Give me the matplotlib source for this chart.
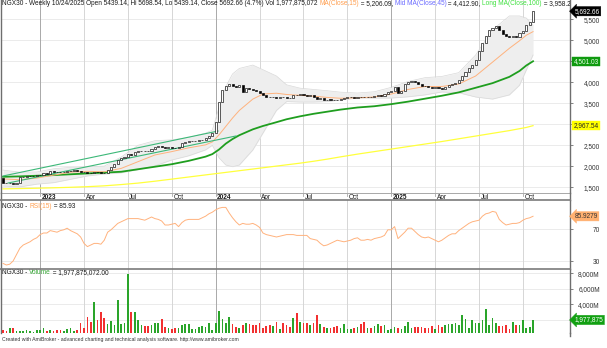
import numpy as np
import pandas as pd
import matplotlib
matplotlib.use("Agg")
import matplotlib.pyplot as plt
import matplotlib.transforms as mtransforms

plt.rcParams["font.family"] = ["Liberation Sans", "DejaVu Sans"]

W, H = 607, 348

# ── Data: NGX30 weekly bars ────────────────────────────────────────────────
dates = pd.date_range("2022-10-21", "2025-10-24", freq="W-FRI")

opens = [
    1712, 1600, 1594, 1598, 1590, 1612, 1738, 1750, 1758, 1766,
    1775, 1790, 1802, 1830, 1822, 1880, 1872, 1865, 1858, 1870,
    1885, 1900, 1905, 1895, 1870, 1862, 1848, 1842, 1872, 1866,
    1852, 1846, 1905, 1990, 2060, 2160, 2190, 2230, 2290, 2270,
    2330, 2360, 2375, 2368, 2362, 2420, 2455, 2480, 2470, 2440,
    2448, 2432, 2425, 2470, 2545, 2580, 2598, 2605, 2612, 2618,
    2630, 2680, 2720, 2790, 3060, 3520, 3810, 3900, 3950, 3920,
    3880, 3940, 3780, 3860, 3840, 3820, 3800, 3740, 3700, 3660,
    3640, 3650, 3630, 3660, 3645, 3635, 3628, 3700, 3690, 3715,
    3700, 3680, 3690, 3650, 3610, 3620, 3570, 3590, 3585, 3580,
    3575, 3600, 3630, 3640, 3650, 3635, 3660, 3650, 3640, 3660,
    3655, 3670, 3690, 3685, 3720, 3760, 3800, 3890, 3745, 3790,
    3960, 4010, 4030, 4005, 3950, 3915, 3900, 3885, 3860, 3880,
    3862, 3850, 3890, 3930, 3950, 3985, 4060, 4150, 4250, 4330,
    4420, 4520, 4740, 4930, 5110, 5240, 5300, 5330, 5240, 5140,
    5110, 5080, 5100, 5090, 5170, 5210, 5365, 5439.14,
]
closes = [
    1600, 1594, 1598, 1590, 1610, 1738, 1750, 1758, 1766, 1775,
    1790, 1802, 1830, 1822, 1880, 1872, 1865, 1858, 1870, 1885,
    1900, 1905, 1895, 1870, 1862, 1848, 1842, 1872, 1866, 1852,
    1846, 1905, 1990, 2060, 2160, 2190, 2230, 2290, 2270, 2330,
    2360, 2375, 2368, 2362, 2420, 2455, 2480, 2470, 2440, 2448,
    2432, 2425, 2470, 2545, 2580, 2598, 2605, 2612, 2618, 2630,
    2680, 2720, 2790, 3060, 3520, 3810, 3900, 3950, 3920, 3880,
    3940, 3780, 3860, 3840, 3820, 3800, 3740, 3700, 3660, 3640,
    3650, 3630, 3660, 3645, 3635, 3628, 3700, 3690, 3715, 3700,
    3680, 3690, 3650, 3610, 3620, 3570, 3590, 3585, 3580, 3575,
    3600, 3630, 3640, 3650, 3635, 3660, 3650, 3640, 3660, 3655,
    3670, 3690, 3685, 3720, 3760, 3800, 3890, 3745, 3790, 3960,
    4010, 4030, 4005, 3950, 3915, 3900, 3885, 3860, 3880, 3862,
    3850, 3890, 3930, 3950, 3985, 4060, 4150, 4250, 4330, 4420,
    4520, 4740, 4930, 5110, 5240, 5300, 5330, 5240, 5140, 5110,
    5080, 5100, 5090, 5170, 5210, 5365, 5439.14, 5692.66,
]
volume_m = [
    684, 555, 900, 900, 600, 600, 600, 684, 555, 465,
    684, 684, 900, 600, 684, 600, 684, 684, 555, 770,
    900, 555, 684, 1630, 900, 2400, 1760, 4340, 1975, 3050,
    2190, 1460, 1850, 1330, 4550, 1460, 1630, 7900, 3050, 3050,
    1975, 1330, 1200, 1200, 1330, 1630, 1630, 2065, 1110, 900,
    770, 900, 900, 1330, 1460, 1460, 770, 770, 1110, 1200,
    1110, 1550, 684, 1550, 3170, 2065, 1550, 2320, 1460, 1020,
    900, 1330, 1630, 1460, 1330, 1330, 1550, 900, 1200, 1330,
    1200, 1760, 770, 1630, 1330, 1110, 2190, 2840, 1760, 1630,
    1630, 1330, 1630, 2620, 1460, 1020, 900, 900, 1020, 1200,
    900, 1460, 810, 770, 900, 1110, 1460, 1760, 900, 900,
    1200, 1460, 1200, 1330, 684, 770, 1020, 900, 770, 1200,
    1760, 900, 1020, 1020, 1020, 900, 900, 1200, 770, 1330,
    1020, 1330, 1460, 1460, 1550, 1330, 2620, 2065, 900, 1975,
    1630, 1630, 1975, 3350, 1330, 2190, 1630, 1200, 1200, 1330,
    770, 1760, 1330, 1330, 1975, 900, 1020, 1977.875,
]
rsi15 = [
    27, 25, 26, 30, 38, 46, 50, 52, 54, 57,
    59, 63, 65, 65, 68, 67, 66, 68, 69, 71,
    68, 66, 64, 60, 52, 48, 50, 52, 52, 51,
    56, 66, 69, 73, 77, 79, 81, 83, 83, 83,
    83, 82, 81, 83, 85, 83, 82, 80, 75, 75,
    76, 77, 73, 78, 81, 82, 82, 82, 82, 84,
    86, 89, 91, 94, 96, 97, 97, 90, 84, 79,
    75, 77, 76, 76, 77, 75, 72, 65, 63, 62,
    61, 60, 61, 62, 63, 63, 63, 62, 62, 62,
    62, 58, 57, 56, 52, 49, 50, 52, 54, 56,
    55, 54, 55, 56, 58, 59, 56, 56, 57, 56,
    58, 59, 60, 62, 69, 69, 73, 58, 62, 66,
    71, 71, 67, 63, 60, 59, 60, 58, 56, 54,
    56, 59, 62, 64, 64, 68, 71, 74, 77, 79,
    80, 81, 86, 89, 90, 92, 91, 82, 78, 75,
    76, 77, 77, 78, 81, 83, 84, 85.93,
]

# overlay lines, read on these bar numbers
line_bars = [0, 5, 10, 15, 20, 25, 30, 35, 40, 45, 50, 55, 60, 62, 64, 66,
             68, 70, 74, 77, 81, 84, 88, 92, 96, 100, 105, 110, 115, 120,
             125, 130, 135, 140, 145, 150, 153, 155, 157]
ma15 = [1700, 1680, 1720, 1790, 1860, 1880, 1870, 1950, 2110, 2270,
        2350, 2440, 2510, 2580, 2750, 2950, 3150, 3330, 3600, 3720,
        3740, 3710, 3690, 3670, 3640, 3620, 3630, 3650, 3720, 3830,
        3900, 3900, 3960, 4150, 4480, 4810, 4990, 5120, 5206.09]
ma_mid = [1750, 1760, 1775, 1790, 1810, 1830, 1850, 1870, 1930, 1990,
          2050, 2130, 2230, 2290, 2400, 2540, 2650, 2740, 2880, 2960,
          3050, 3120, 3190, 3250, 3300, 3350, 3400, 3430, 3480, 3540,
          3610, 3680, 3760, 3870, 3980, 4130, 4270, 4400, 4501.03]
ma_long = [1462, 1470, 1478, 1488, 1500, 1515, 1535, 1565, 1600, 1645,
           1695, 1745, 1795, 1815, 1835, 1855, 1875, 1895, 1935, 1965,
           2005, 2035, 2075, 2120, 2170, 2225, 2290, 2350, 2410, 2470,
           2530, 2590, 2655, 2720, 2785, 2850, 2895, 2925, 2967.54]
band_hi = [1910, 1860, 1865, 1940, 1975, 1985, 2005, 2220, 2500, 2610,
           2630, 2685, 2790, 2860, 3400, 3900, 4200, 4330, 4410, 4300,
           4150, 3940, 3860, 3830, 3800, 3765, 3745, 3775, 3880, 4020,
           4110, 4140, 4230, 4650, 5250, 5580, 5580, 5530, 5360]
band_lo = [1530, 1510, 1575, 1610, 1690, 1770, 1815, 1845, 1920, 2010,
           2150, 2250, 2390, 2500, 2200, 2030, 1990, 2030, 2388, 2790,
           3330, 3540, 3530, 3530, 3540, 3580, 3625, 3625, 3625, 3655,
           3700, 3770, 3750, 3650, 3600, 3700, 3930, 4290, 4650]

# hand drawn trend channel
chan_up_bars, chan_up_vals = [0, 63.7], [1769, 2840]
chan_dn_bars, chan_dn_vals = [1.5, 69.0], [1602, 2722]

price_ticks = [1500, 2000, 2500, 3000, 3500, 4000, 4500, 5000, 5500]
price_labelled = [1500, 2000, 2500, 3500, 4000, 5000, 5500]
rsi_ticks = [30, 70]
vol_ticks = [2000, 4000, 6000, 8000]
vol_labelled = [4000, 6000, 8000]

# ── Colours ───────────────────────────────────────────────────────────────
AXIS = "#6e6e6e"
GRID_H = "#e8e8e8"
GRID_Q = "#d6d6d6"
GRID_Y = "#a9a9a9"
ORANGE = "#ffb27d"
GREEN_MA = "#1f9e1f"
YELLOW = "#ffff3c"
CHANNEL = "#3cb878"
BAND = "#eeeeee"
BAND_EDGE = "#d9d9d9"
VOL_UP = "#2aa52a"
VOL_DN = "#f23030"
TXT = "#1a1a1a"
FS = 4.7

fig = plt.figure(figsize=(W / 100, H / 100), dpi=100)


def pane(top, bottom):
    a = fig.add_axes([1 / W, 1 - bottom / H, 569 / W, (bottom - top) / H])
    a.set_facecolor("white")
    for side in ("top", "bottom"):
        a.spines[side].set_visible(False)
    a.spines["left"].set_color(AXIS)
    a.spines["right"].set_color(AXIS)
    a.spines["left"].set_linewidth(1.0)
    a.spines["right"].set_linewidth(1.0)
    a.set_xticks([])
    a.yaxis.tick_right()
    a.tick_params(axis="y", which="both", length=2, width=0.6, color=AXIS,
                  labelsize=FS, labelcolor="#333333", pad=19.5)
    return a


def right_labels(a, ticks, texts):
    a.set_yticks(ticks)
    a.set_yticklabels(texts)
    for lbl in a.get_yticklabels():
        lbl.set_horizontalalignment("right")


ax = pane(0, 193)
ax_dt = pane(193, 200)
ax_rsi = pane(200, 269)
ax_vol = pane(269, 333)

n = np.arange(len(dates))
XLIM = (-0.59, 167.95)
for a in (ax, ax_dt, ax_rsi, ax_vol):
    a.set_xlim(*XLIM)

# quarter boundaries: first bar of each quarter
q = dates.to_period("Q")
q_starts = [i for i in range(1, len(dates)) if q[i] != q[i - 1]]


def vgrid(a):
    for i in q_starts:
        yearline = dates[i].month == 1
        a.axvline(i, color=GRID_Y if yearline else GRID_Q, lw=0.7, zorder=0)


# ── Price pane ────────────────────────────────────────────────────────────
ax.set_ylim(1364.3, 5959.5)
right_labels(ax, price_ticks,
             [f"{v:,}" if v in price_labelled else "" for v in price_ticks])
for v in price_ticks:
    ax.axhline(v, color=GRID_H, lw=0.6, zorder=0)
vgrid(ax)

ax.fill_between(line_bars, band_lo, band_hi, color=BAND, lw=0, zorder=1)
ax.plot(line_bars, band_hi, color=BAND_EDGE, lw=0.5, zorder=1)
ax.plot(line_bars, band_lo, color=BAND_EDGE, lw=0.5, zorder=1)

ax.plot(line_bars, ma_long, color=YELLOW, lw=0.9, zorder=2)
ax.plot(line_bars, ma_mid, color=GREEN_MA, lw=1.3, zorder=2)
ax.plot(line_bars, ma15, color=ORANGE, lw=0.7, zorder=2)
ax.plot(chan_up_bars, chan_up_vals, color=CHANNEL, lw=0.8, zorder=3)
ax.plot(chan_dn_bars, chan_dn_vals, color=CHANNEL, lw=0.8, zorder=3)

o = np.array(opens, dtype=float)
c = np.array(closes, dtype=float)
up = c >= o
body = np.where(np.abs(c - o) < 6, 6, np.abs(c - o))
ax.bar(n, body, bottom=np.minimum(o, c), width=0.62,
       color=np.where(up, "white", "black"), edgecolor="black",
       linewidth=0.45, zorder=4)

# ── Date strip ────────────────────────────────────────────────────────────
ax_dt.set_ylim(0, 1)
ax_dt.set_yticks([])
ax_dt.axhline(1, color="#9a9a9a", lw=0.6)
for i in q_starts:
    ax_dt.plot([i, i], [0.62, 1], color=GRID_Y, lw=0.6)
    d = dates[i]
    year = d.month == 1
    ax_dt.text(i + 0.45, 0.42, str(d.year) if year else d.strftime("%b"),
               fontsize=FS, fontweight="bold" if year else "normal",
               color=TXT, ha="left", va="center")

# ── RSI pane ──────────────────────────────────────────────────────────────
ax_rsi.set_ylim(20, 106.25)
right_labels(ax_rsi, rsi_ticks, [str(v) for v in rsi_ticks])
for v in rsi_ticks:
    ax_rsi.axhline(v, color=GRID_H, lw=0.6, zorder=0)
vgrid(ax_rsi)
ax_rsi.plot(n, rsi15, color=ORANGE, lw=0.7, zorder=3)

# ── Volume pane (floor sits a little above zero) ──────────────────────────
ax_vol.set_ylim(297, 8553)
right_labels(ax_vol, vol_ticks,
             [f"{v:,}M" if v in vol_labelled else "" for v in vol_ticks])
for v in vol_ticks:
    ax_vol.axhline(v, color=GRID_H, lw=0.6, zorder=0)
vgrid(ax_vol)
ax_vol.bar(n, volume_m, width=0.5, color=np.where(up, VOL_UP, VOL_DN),
           linewidth=0, zorder=3)
fig.add_artist(plt.Line2D([570 / W] * 2, [1 - 336 / H, 1 - 333 / H],
                          transform=fig.transFigure, color=AXIS, lw=1.0))

# pane separators
for ypx in (200, 269):
    fig.add_artist(plt.Line2D([0, 570 / W], [1 - ypx / H] * 2,
                              transform=fig.transFigure, color="#7a7a7a", lw=1.2))


# ── Titles made of coloured runs ──────────────────────────────────────────
def runs(a, x_px, y_px, parts):
    r = fig.canvas.get_renderer()
    x = x_px
    for s, col in parts:
        t = a.text(x, H - y_px, s, transform=mtransforms.IdentityTransform(),
                   fontsize=FS, color=col, ha="left", va="center", clip_on=True)
        x = t.get_window_extent(r).x1


runs(ax, 2, 3.8, [
    ("NGX30 - Weekly 10/24/2025 Open 5439.14, Hi 5698.54, Lo 5439.14, "
     "Close 5692.66 (4.7%) Vol 1,977,875,072 ", TXT),
    ("MA(Close,15)", "#ff9f50"), (" = 5,206.09, ", TXT),
    ("Mid MA(Close,45)", "#6b6bff"), (" = 4,412.90, ", TXT),
    ("Long MA(Close,100)", "#3ee03e"), (" = 3,958.20", TXT),
])
runs(ax_rsi, 2, 206.5, [("NGX30 - ", TXT), ("RSI(15)", "#ff9f50"),
                        (" = 85.93", TXT)])
runs(ax_vol, 2, 272.5, [("NGX30 - ", TXT), ("Volume", "#3aa83a"),
                        (" = 1,977,875,072.00", TXT)])

fig.text(2 / W, 1 - 339.5 / H,
         "Created with AmiBroker - advanced charting and technical analysis "
         "software. http://www.amibroker.com",
         fontsize=3.7, color="#333333", ha="left", va="center")


# ── Last-value tags on the right axis ─────────────────────────────────────
def tag(a, val, text, fc, tc, arrow):
    tr = mtransforms.offset_copy(
        mtransforms.blended_transform_factory(a.transAxes, a.transData),
        fig=fig, x=4.5 if arrow else 3.5, y=0, units="dots")
    style = "larrow,pad=0.18" if arrow else "square,pad=0.18"
    a.text(1.0, val, text, transform=tr, fontsize=FS, color=tc, ha="left",
           va="center", clip_on=False,
           bbox=dict(boxstyle=style, fc=fc, ec=fc, lw=0.3))


tag(ax, closes[-1], f"{closes[-1]:,.2f}", "black", "white", True)
tag(ax, ma_mid[-1], f"{ma_mid[-1]:,.2f}", "#0f9a0f", "#e8ffe8", False)
tag(ax, ma_long[-1], f"{ma_long[-1]:,.2f}", "#ffff00", "#222222", False)
tag(ax_rsi, rsi15[-1] - 0.0021, "85.9279", "#ffb070", "#333333", True)
tag(ax_vol, volume_m[-1], "1,977,875", "#12a012", "white", True)

fig.savefig("out.png", dpi=100, facecolor="white")
